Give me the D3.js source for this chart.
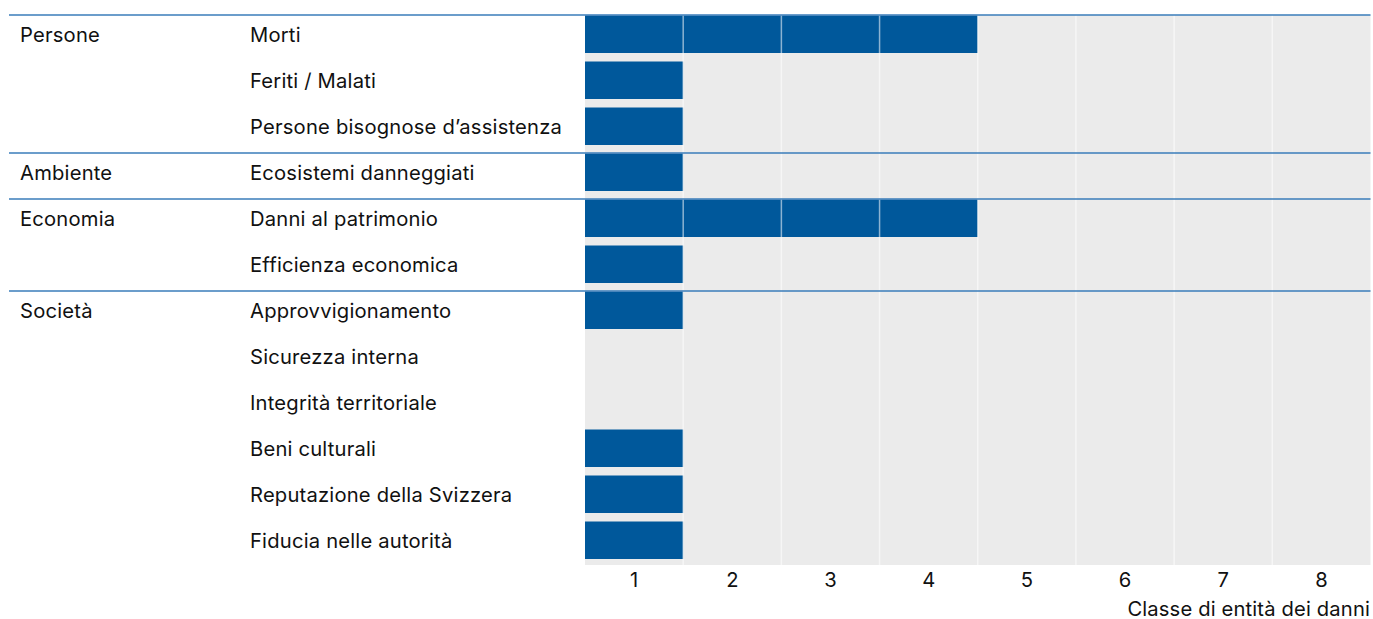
<!DOCTYPE html>
<html><head><meta charset="utf-8">
<script src="https://cdn.jsdelivr.net/npm/d3@7"></script>
<style>body{margin:0;background:#fff}svg text{font-family:Inter,"Liberation Sans",Arial,sans-serif;fill:#111}</style>
</head><body><svg id="c" width="1373" height="619"></svg>
<script>
const subcategories = ["Morti","Feriti / Malati","Persone bisognose d’assistenza","Ecosistemi danneggiati","Danni al patrimonio","Efficienza economica","Approvvigionamento","Sicurezza interna","Integrità territoriale","Beni culturali","Reputazione della Svizzera","Fiducia nelle autorità"];
const values = [4,1,1,1,4,1,1,0,0,1,1,1];
const groups = ["Persone","Ambiente","Economia","Società"];
const groupStart = [0,3,4,6];
const tickLabels = ["1","2","3","4","5","6","7","8"];
const axisTitle = "Classe di entità dei danni";

const svg = d3.select("#c");
const x = d3.scaleLinear().domain([0,8]).range([585,1370.5]);
const y = d3.scaleBand().domain(d3.range(subcategories.length)).range([15,567]).paddingInner(0).paddingOuter(0);
const barH = 37.5;
const fs = 20.2;
const ls = 0.2;

svg.append("rect").attr("x",x(0)).attr("y",y(0)).attr("width",x(8)-x(0)).attr("height",y.step()*subcategories.length-2).attr("fill","#ebebeb");

svg.selectAll("rect.bar").data(values).join("rect").attr("class","bar")
  .attr("x",x(0)).attr("y",(d,i)=>y(i)+0.5).attr("width",d=>x(d)-x(0)).attr("height",barH).attr("fill","#00589b");

svg.selectAll("line.v").data(d3.range(1,8)).join("line").attr("class","v")
  .attr("x1",d=>x(d)).attr("x2",d=>x(d)).attr("y1",y(0)).attr("y2",565)
  .attr("stroke","#fff").attr("stroke-opacity",0.55).attr("stroke-width",1.5);

svg.selectAll("line.h").data(groupStart).join("line").attr("class","h")
  .attr("x1",9).attr("x2",1370.5).attr("y1",d=>y(d)).attr("y2",d=>y(d))
  .attr("stroke","#3a7dba").attr("stroke-width",1.3);

svg.selectAll("text.sub").data(subcategories).join("text").attr("class","sub")
  .attr("x",250).attr("y",(d,i)=>y(i)+27).attr("font-size",fs).attr("letter-spacing",ls).text(d=>d);

svg.selectAll("text.grp").data(groups).join("text").attr("class","grp")
  .attr("x",20).attr("y",(d,i)=>y(groupStart[i])+27).attr("font-size",fs).attr("letter-spacing",ls).text(d=>d);

svg.selectAll("text.tick").data(tickLabels).join("text").attr("class","tick")
  .attr("x",(d,i)=>(x(i)+x(i+1))/2).attr("y",587).attr("text-anchor","middle").attr("font-size",fs).text(d=>d);

svg.append("text").attr("x",1370).attr("y",615.5).attr("text-anchor","end").attr("font-size",fs).attr("letter-spacing",0.15).text(axisTitle);
</script></body></html>
